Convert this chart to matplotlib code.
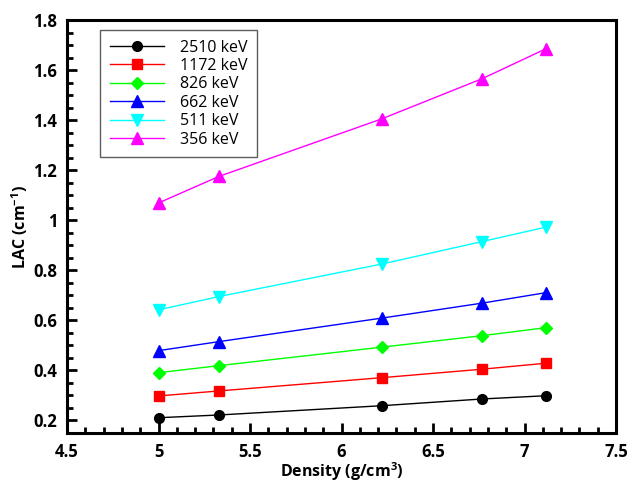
import numpy as np
import matplotlib
matplotlib.use("Agg")
import matplotlib.pyplot as plt

plt.rcParams['font.family'] = ['Open Sans', 'DejaVu Sans']
plt.rcParams['mathtext.default'] = 'regular'

# densities (g/cm3)
density = [5.00, 5.33, 6.22, 6.77, 7.12]

# linear attenuation coefficients (cm-1) per photon energy
lac_2510 = [0.211, 0.222, 0.259, 0.286, 0.299]
lac_1172 = [0.298, 0.318, 0.371, 0.405, 0.429]
lac_826 = [0.391, 0.419, 0.493, 0.539, 0.571]
lac_662 = [0.479, 0.515, 0.609, 0.669, 0.711]
lac_511 = [0.642, 0.695, 0.825, 0.915, 0.973]
lac_356 = [1.069, 1.175, 1.405, 1.566, 1.686]

labels = ['2510 keV', '1172 keV', '826 keV', '662 keV', '511 keV', '356 keV']
series = [lac_2510, lac_1172, lac_826, lac_662, lac_511, lac_356]
colors = ['#000000', '#ff0000', '#00ff00', '#0000ff', '#00ffff', '#ff00ff']
markers = ['o', 's', 'D', '^', 'v', '^']
msizes = [7, 7, 6.5, 8, 9, 8]

fig = plt.figure(figsize=(6.32, 4.86), dpi=100)
ax = fig.add_axes([67/632, 1 - 433/486, 549/632, 413/486])

for y, lab, c, mk, ms in zip(series, labels, colors, markers, msizes):
    ax.plot(density, y, color=c, lw=1.0, marker=mk, ms=ms, mec=c, mfc=c, label=lab)

ax.set_xlim(4.5, 7.5)
ax.set_ylim(0.15, 1.8)
ax.set_xticks(np.arange(4.5, 7.51, 0.5))
ax.set_xticklabels(['4.5', '5', '5.5', '6', '6.5', '7', '7.5'])
ax.set_xticks(np.arange(4.5, 7.51, 0.1), minor=True)
ax.set_yticks(np.arange(0.2, 1.81, 0.2))
ax.set_yticklabels(['0.2', '0.4', '0.6', '0.8', '1', '1.2', '1.4', '1.6', '1.8'])
ax.set_yticks(np.arange(0.15, 1.81, 0.05), minor=True)

for s in ax.spines.values():
    s.set_linewidth(2.2)
ax.tick_params(which='both', direction='in', top=False, right=False, width=2.0,
               labelsize=12, pad=7)
ax.tick_params(which='major', length=7)
ax.tick_params(which='minor', length=4)
for t in ax.get_xticklabels() + ax.get_yticklabels():
    t.set_fontweight('bold')

ax.set_xlabel('Density (g/cm$^{3}$)', fontsize=11.5, fontweight='bold', labelpad=0)
ax.set_ylabel('LAC (cm$^{-1}$)', fontsize=11.5, fontweight='bold', labelpad=2)

leg = ax.legend(loc='upper left', bbox_to_anchor=(33/549, 1 - 10/413), fontsize=11.5,
                frameon=True, fancybox=False, handlelength=3.4, handletextpad=1.0,
                labelspacing=0.15, borderpad=0.6, borderaxespad=0)
leg.get_frame().set_edgecolor('#333333')
leg.get_frame().set_linewidth(1.0)

fig.savefig('out.png', dpi=100)
